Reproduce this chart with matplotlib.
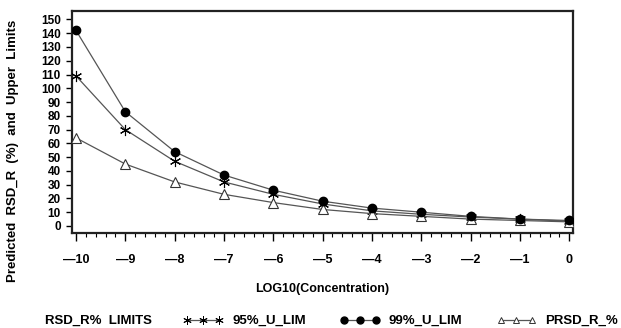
import matplotlib
matplotlib.use("Agg")
import matplotlib.pyplot as plt
from matplotlib.ticker import MultipleLocator
from matplotlib.lines import Line2D

plt.rcParams['font.family'] = ['Liberation Sans', 'DejaVu Sans']
plt.rcParams['font.weight'] = 'bold'

# --- data ---
log_conc = [-10, -9, -8, -7, -6, -5, -4, -3, -2, -1, 0]
u_lim_95 = [109, 70, 47, 32, 23, 16, 11, 8.5, 6.5, 5, 3.5]
u_lim_99 = [142, 83, 54, 37, 26, 18, 13, 10, 7, 5, 4]
prsd_r = [64, 45, 32, 23, 17, 12, 9, 7, 5, 4, 3]

fig = plt.figure(figsize=(6.21, 3.28), dpi=100)
ax = fig.add_axes([0.116, 0.290, 0.807, 0.676])

line_col = '#555555'
ax.plot(log_conc, u_lim_95, color=line_col, lw=0.9, marker=(6, 2, 0),
        ms=8, mec='black', mew=0.8, zorder=3)
ax.plot(log_conc, u_lim_99, color=line_col, lw=0.9, marker='o',
        ms=6, mfc='black', mec='black', zorder=4)
ax.plot(log_conc, prsd_r, color=line_col, lw=0.9, marker='^',
        ms=6.5, mfc='white', mec='#333333', mew=0.8, zorder=3)

ax.set_xlim(-10.08, 0.08)
ax.set_ylim(-5, 156)
ax.set_xticks(log_conc)
ax.set_xticklabels(['\u2014' + str(-v) if v < 0 else str(v) for v in log_conc])
ax.xaxis.set_minor_locator(MultipleLocator(0.2))
ax.set_yticks(range(0, 151, 10))

for s in ax.spines.values():
    s.set_linewidth(1.6)
    s.set_color('#222222')

ax.tick_params(axis='x', which='major', direction='out', length=6, width=1,
               labelsize=9, pad=9)
ax.tick_params(axis='x', which='minor', direction='out', length=3, width=0.8)
ax.tick_params(axis='y', which='major', direction='out', length=4, width=1,
               labelsize=8.5, pad=4)

ax.set_xlabel('LOG10(Concentration)', fontsize=9, fontweight='bold')
ax.xaxis.set_label_coords(0.5, -0.225)
ax.set_ylabel('Predicted  RSD_R  (%)  and  Upper  Limits', fontsize=9.5,
              fontweight='bold')
ax.yaxis.set_label_coords(-0.105, 0.37)

# legend row at bottom
fig.text(0.072, 0.021, 'RSD_R%  LIMITS', fontsize=9.5, fontweight='bold',
         va='center')
handles = [
    Line2D([], [], color=line_col, lw=0.9, marker=(6, 2, 0), ms=6, mec='black', mew=0.7),
    Line2D([], [], color=line_col, lw=0.9, marker='o', ms=5, mfc='black', mec='black'),
    Line2D([], [], color=line_col, lw=0.9, marker='^', ms=5, mfc='white', mec='#333333', mew=0.7),
]
labels = ['95%_U_LIM', '99%_U_LIM', 'PRSD_R_%']
fig.legend(handles, labels, loc='center left', bbox_to_anchor=(0.295, 0.021),
           ncol=3, numpoints=3, handlelength=3.0, handletextpad=0.7,
           columnspacing=2.6, frameon=False, borderpad=0, borderaxespad=0,
           prop={'weight': 'bold', 'size': 9.5})

fig.savefig('out.png', dpi=100)
